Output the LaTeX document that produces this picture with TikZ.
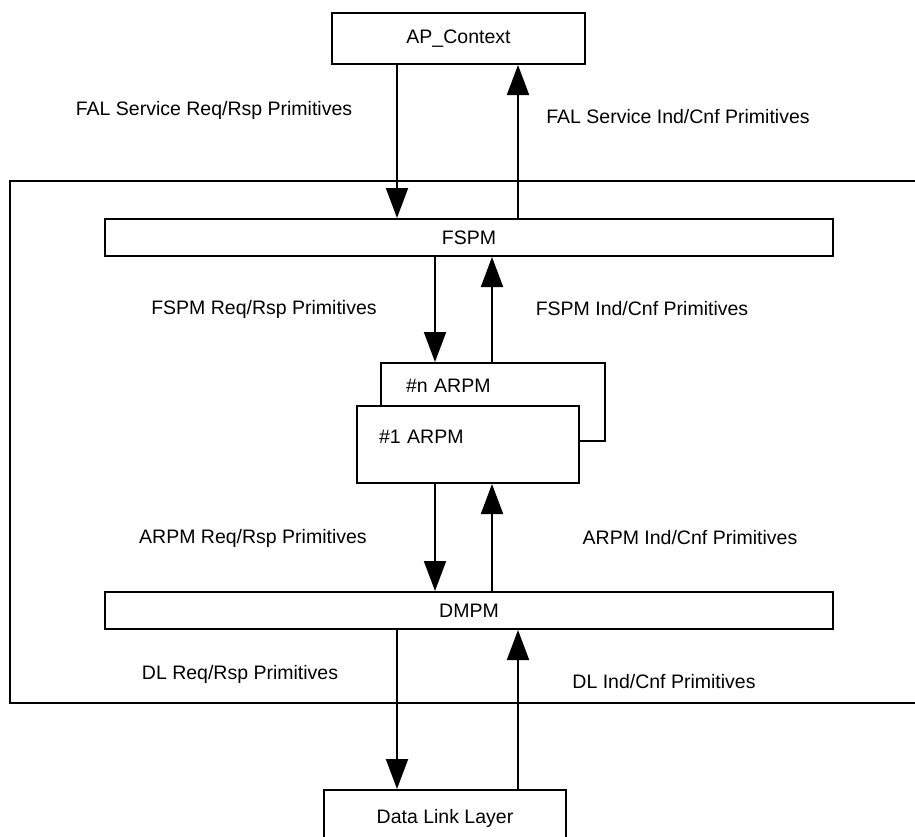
\documentclass[tikz,border=0pt]{standalone}
\usepackage{fontspec}
\setmainfont{Liberation Sans}
\usetikzlibrary{arrows.meta}

\tikzset{
  blk/.style={draw, line width=2pt, fill=white, inner sep=0pt},
  prim/.style={line width=2pt, -{Triangle[length=30pt,width=22pt]}},
}

\begin{document}
\begin{tikzpicture}[x=1pt, y=-1pt, font=\fontsize{19.5}{23}\selectfont]
\clip (0,0) rectangle (915,836);
%%%%% Frame %%%%%
\draw[line width=2pt] (10,181) rectangle (940,703);
%%%%% Blocks %%%%%
\node[blk, minimum width=253pt, minimum height=51pt] (ap) at (458.5,38.5) {AP\_Context};
\node[blk, minimum width=728pt, minimum height=37pt] (fspm) at (469,237.5) {FSPM};
\node[blk, anchor=north west, inner xsep=25pt, text width=174pt, align=left, text height=29pt, text depth=49pt] (narpm) at (380,362) {\#n ARPM};
\node[blk, anchor=north west, inner xsep=22pt, text width=178pt, align=left, text height=37pt, text depth=40pt] (arpm) at (356,405) {\#1 ARPM};
\node[blk, minimum width=728pt, minimum height=37pt] (dmpm) at (469,610.5) {DMPM};
\node[blk, anchor=north, minimum width=242pt, text height=33pt, text depth=50pt] (dll) at (445,789) {Data Link Layer};
%%%%% Arrows %%%%%
\coordinate (xa) at (397,0);
\coordinate (xb) at (518,0);
\coordinate (xc) at (435,0);
\coordinate (xd) at (492,0);
\draw[prim] (ap.south -| xa) -- (fspm.north -| xa);
\draw[prim] (fspm.north -| xb) -- (ap.south -| xb);
\draw[prim] (fspm.south -| xc) -- (narpm.north -| xc);
\draw[prim] (narpm.north -| xd) -- (fspm.south -| xd);
\draw[prim] (arpm.south -| xc) -- (dmpm.north -| xc);
\draw[prim] (dmpm.north -| xd) -- (arpm.south -| xd);
\draw[prim] (dmpm.south -| xa) -- (dll.north -| xa);
\draw[prim] (dll.north -| xb) -- (dmpm.south -| xb);
%%%%% Labels %%%%%
\node (falreq) at (214,110) {FAL Service Req/Rsp Primitives};
\node (falind) at (678,117) {FAL Service Ind/Cnf Primitives};
\node (fspmreq) at (264,309) {FSPM Req/Rsp Primitives};
\node (fspmind) at (642,309) {FSPM Ind/Cnf Primitives};
\node (arpmreq) at (253,538) {ARPM Req/Rsp Primitives};
\node (arpmind) at (690,538) {ARPM Ind/Cnf Primitives};
\node (dlreq) at (240,674) {DL Req/Rsp Primitives};
\node (dlind) at (664,682) {DL Ind/Cnf Primitives};
\end{tikzpicture}
\end{document}
